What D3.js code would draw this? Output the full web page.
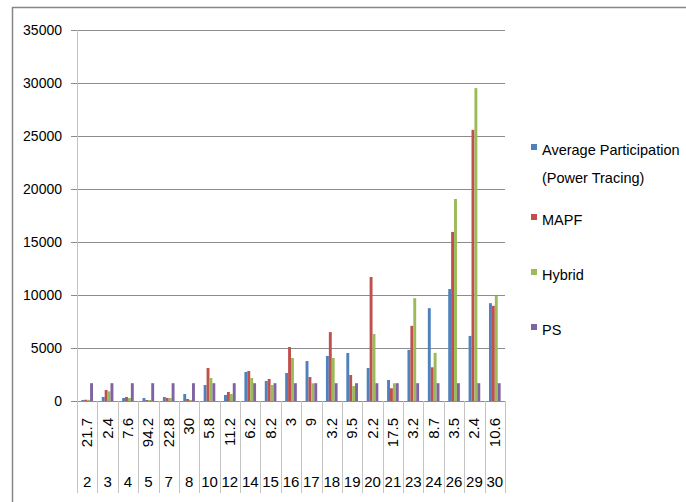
<!DOCTYPE html>
<html>
<head>
<meta charset="utf-8">
<script src="https://cdn.jsdelivr.net/npm/d3@7"></script>
<style>
  body { margin: 0; background: #fff; }
  text { font-family: "Liberation Sans", Arial, sans-serif; fill: #000; }
</style>
</head>
<body>
<div id="chart"></div>
<script>
// bus number (bottom row) and the rotated value above it
var buses = ["2","3","4","5","7","8","10","12","14","15","16","17","18","19","20","21","23","24","26","29","30"];
var busValues = ["21.7","2.4","7.6","94.2","22.8","30","5.8","11.2","6.2","8.2","3","9","3.2","9.5","2.2","17.5","3.2","8.7","3.5","2.4","10.6"];

var avgParticipation = [100,380,280,280,380,660,1510,570,2740,1890,2640,3770,4250,4530,3110,1985,4820,8760,10560,6140,9230];
var mapf = [120,1040,380,95,280,190,3110,850,2830,2075,5090,2260,6500,2450,11700,1200,7090,3180,15950,25580,8980];
var hybrid = [110,910,280,95,280,95,2170,660,2170,1510,4060,1670,4060,1420,6320,1670,9700,4540,19060,29520,9920];
var ps = [1680,1680,1680,1680,1680,1680,1680,1680,1680,1680,1680,1680,1680,1680,1680,1680,1680,1680,1680,1680,1680];

var seriesNames = [["Average Participation", "(Power Tracing)"], ["MAPF"], ["Hybrid"], ["PS"]];
var yTicks = [0, 5000, 10000, 15000, 20000, 25000, 30000, 35000];

var width = 686, height = 502;
var colors = ["#4F81BD", "#C0504D", "#9BBB59", "#8064A2"];
var series = [avgParticipation, mapf, hybrid, ps];

var svg = d3.select("#chart").append("svg")
    .attr("width", width)
    .attr("height", height);

// chart border (right/bottom run off the picture)
svg.append("rect")
    .attr("x", 12.5).attr("y", 7.5)
    .attr("width", 700).attr("height", 520)
    .attr("fill", "none")
    .attr("stroke", "#868686")
    .attr("stroke-width", 1.5);

var plotLeft = 77, plotRight = 505, plotTop = 30, plotBase = 401, plotBottom = 493;

var x = d3.scaleBand().domain(d3.range(buses.length)).range([plotLeft, plotRight]).padding(0);
var y = d3.scaleLinear().domain([0, 35000]).range([plotBase, plotTop]);

var inner = d3.scaleBand().domain(d3.range(4))
    .range([0, x.bandwidth()]).paddingOuter(1.5).paddingInner(0);

// gridlines + tick marks
var grid = svg.append("g");
grid.selectAll("line.grid")
    .data(yTicks)
    .enter().append("line")
    .attr("class", "grid")
    .attr("x1", plotLeft - 6).attr("x2", plotRight)
    .attr("y1", function(d) { return Math.round(y(d)) + 0.5; })
    .attr("y2", function(d) { return Math.round(y(d)) + 0.5; })
    .attr("stroke", "#8c8c8c")
    .attr("stroke-width", 1);

grid.selectAll("text")
    .data(yTicks)
    .enter().append("text")
    .attr("x", 62)
    .attr("y", function(d) { return y(d) + 5; })
    .attr("text-anchor", "end")
    .style("font-size", "14px")
    .text(function(d) { return d; });

// category separators (y axis line included)
svg.append("g").selectAll("line")
    .data(d3.range(buses.length + 1))
    .enter().append("line")
    .attr("x1", function(i) { return Math.round(plotLeft + i * x.bandwidth()) + 0.5; })
    .attr("x2", function(i) { return Math.round(plotLeft + i * x.bandwidth()) + 0.5; })
    .attr("y1", function(i) { return i === 0 ? plotTop : plotBase; })
    .attr("y2", plotBottom)
    .attr("stroke", "#c4c4c4")
    .attr("stroke-width", 1);

// bars
series.forEach(function(vals, s) {
    svg.append("g").selectAll("rect")
        .data(vals)
        .enter().append("rect")
        .attr("x", function(d, i) { return x(i) + inner(s); })
        .attr("width", inner.bandwidth())
        .attr("y", function(d) { return y(d); })
        .attr("height", function(d) { return plotBase - y(d); })
        .attr("fill", colors[s]);
});

// rotated value row
svg.append("g").selectAll("text")
    .data(busValues)
    .enter().append("text")
    .attr("transform", function(d, i) {
        return "translate(" + (x(i) + x.bandwidth() / 2 + 5) + ",418) rotate(-90)";
    })
    .attr("text-anchor", "end")
    .style("font-size", "15px")
    .text(function(d) { return d; });

// bus row
svg.append("g").selectAll("text")
    .data(buses)
    .enter().append("text")
    .attr("x", function(d, i) { return x(i) + x.bandwidth() / 2; })
    .attr("y", 487)
    .attr("text-anchor", "middle")
    .style("font-size", "15px")
    .text(function(d) { return d; });

// legend
var legendY = [155, 225, 280, 335];
var legend = svg.append("g").selectAll("g")
    .data(seriesNames)
    .enter().append("g")
    .attr("transform", function(d, i) { return "translate(531," + legendY[i] + ")"; });

legend.append("rect")
    .attr("x", 0).attr("y", -11)
    .attr("width", 6).attr("height", 6)
    .attr("fill", function(d, i) { return colors[i]; });

legend.append("text")
    .attr("x", 11)
    .style("font-size", "14.5px")
    .selectAll("tspan")
    .data(function(d) { return d; })
    .enter().append("tspan")
    .attr("x", 11)
    .attr("dy", function(d, i) { return i === 0 ? 0 : 28; })
    .text(function(d) { return d; });
</script>
</body>
</html>
